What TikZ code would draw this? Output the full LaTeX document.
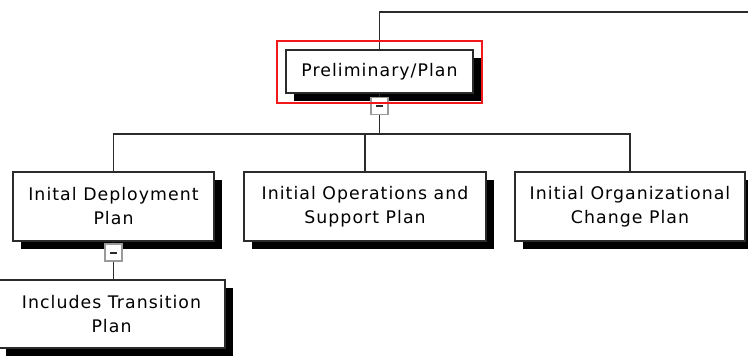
\documentclass[tikz,border=0pt]{standalone}
\usepackage{fontspec}
\setmainfont{DejaVu Sans}[LetterSpace=6]
\usetikzlibrary{shadows, calc}
\definecolor{wirecol}{HTML}{2B2B2B}
\definecolor{selectred}{HTML}{F01818}
\definecolor{togglegray}{HTML}{9A9A9A}
\tikzstyle{plan} = [rectangle, draw=wirecol, line width=1.1pt, fill=white, align=center, inner sep=0pt, font=\fontsize{13}{18}\selectfont, drop shadow={shadow xshift=6pt, shadow yshift=-6pt, fill=black, opacity=1}]
\tikzstyle{toggle} = [rectangle, draw=togglegray, line width=0.8pt, fill=white, minimum size=12.75pt, inner sep=0pt]
\tikzstyle{wire} = [line width=1.1pt, color=wirecol]
\newcommand{\collapse}{\textcolor{wirecol}{\rule{5.25pt}{1.5pt}}}

\begin{document}
\begin{tikzpicture}[x=0.75pt, y=-0.75pt]
    \clip (0,0) rectangle (748,356);
    \node[plan, minimum width=140.25pt, minimum height=32.25pt] (prelim) at (379.5,71.5) {Preliminary/Plan};
    \node[toggle] (tog1) at (379.5,106) {\collapse};
    \node[plan, minimum width=150.75pt, minimum height=51.75pt] (deploy) at (113.5,206.5) {Inital Deployment\\Plan};
    \node[plan, minimum width=181.5pt, minimum height=51.75pt] (ops) at (365,206.5) {Initial Operations and\\Support Plan};
    \node[plan, minimum width=172.5pt, minimum height=51.75pt] (org) at (630,206.5) {Initial Organizational\\Change Plan};
    \node[toggle] (tog2) at (113.5,252.5) {\collapse};
    \node[plan, minimum width=170.25pt, minimum height=51pt] (trans) at (111.5,314) {Includes Transition\\Plan};
    \coordinate (offpage) at (748,12);
    \coordinate (bus) at (0,134);

    \draw[wire] (prelim.north) |- (offpage);
    \draw[wire] (prelim.south) -- (tog1.north);
    \draw[wire] (tog1.south) -- (tog1.south |- bus);
    \draw[wire] (deploy.north) -- (deploy.north |- bus) -| (org.north);
    \draw[wire] (ops.north) -- (ops.north |- bus);
    \draw[wire] (deploy.south) -- (tog2.north);
    \draw[wire] (tog2.south) -- (tog2.south |- trans.north);
    \draw[selectred, line width=1.2pt] ($(prelim.north west)+(-8,-8)$) rectangle ($(prelim.south east)+(8,9)$);
\end{tikzpicture}
\end{document}
